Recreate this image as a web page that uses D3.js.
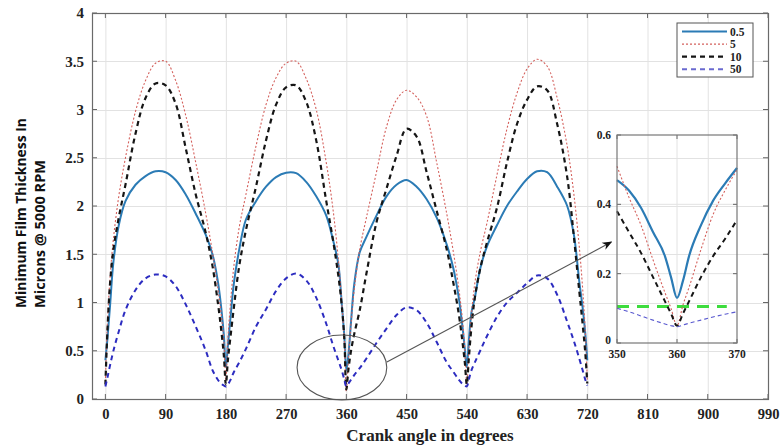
<!DOCTYPE html>
<html><head><meta charset="utf-8">
<script src="https://cdn.jsdelivr.net/npm/d3@7"></script>
<style>body{margin:0;background:#fff;} svg{display:block;}</style>
</head><body><svg id="c" width="781" height="445"></svg>
<script>
// ---------- data ----------
const angles = [0,3,7,12,20,30,45,60,75,90,105,120,135,150,160,168,173,177,
  180,183,187,192,200,210,225,240,255,270,285,300,315,330,340,348,353,357,
  360,363,367,372,380,390,405,420,435,450,465,480,495,510,520,528,533,537,
  540,543,547,552,560,570,585,600,615,630,645,660,675,690,700,708,713,717,
  720];
const film05 = [0.40,0.62,0.97,1.42,1.80,2.05,2.22,2.31,2.36,2.35,2.27,2.12,1.92,1.70,1.50,1.22,0.95,0.66,
  0.33,0.55,0.85,1.20,1.55,1.86,2.05,2.20,2.30,2.345,2.34,2.25,2.10,1.90,1.65,1.40,1.00,0.65,
  0.30,0.45,0.80,1.20,1.52,1.68,1.90,2.10,2.22,2.27,2.20,2.07,1.88,1.60,1.35,1.05,0.78,0.52,
  0.33,0.60,0.90,1.05,1.35,1.58,1.80,2.00,2.15,2.28,2.36,2.35,2.20,2.00,1.70,1.22,0.95,0.68,
  0.40];
const film5 = [0.18,0.78,1.26,1.66,2.10,2.50,2.98,3.30,3.48,3.50,3.30,2.94,2.45,1.92,1.52,1.15,0.88,0.60,
  0.20,0.62,1.00,1.38,1.78,2.12,2.62,3.05,3.33,3.48,3.50,3.32,3.00,2.45,1.97,1.45,1.02,0.60,
  0.08,0.40,0.78,1.15,1.55,1.88,2.35,2.82,3.10,3.20,3.13,2.93,2.45,1.92,1.52,1.15,0.85,0.50,
  0.15,0.50,0.88,1.20,1.52,1.82,2.32,2.80,3.17,3.42,3.52,3.45,3.12,2.62,2.12,1.58,1.15,0.70,
  0.20];
const film10 = [0.15,0.70,1.20,1.55,1.88,2.22,2.75,3.12,3.27,3.25,3.06,2.60,2.12,1.72,1.38,1.00,0.72,0.45,
  0.15,0.40,0.65,0.95,1.38,1.75,2.20,2.68,3.05,3.23,3.25,3.08,2.68,2.05,1.65,1.28,0.98,0.62,
  0.10,0.30,0.50,0.68,0.92,1.30,1.83,2.18,2.52,2.80,2.72,2.35,1.95,1.55,1.20,0.88,0.62,0.38,
  0.15,0.42,0.75,1.05,1.35,1.62,1.98,2.45,2.85,3.10,3.24,3.20,2.85,2.30,1.68,1.12,0.78,0.48,
  0.16];
const film50 = [0.13,0.22,0.35,0.50,0.70,0.92,1.13,1.25,1.29,1.27,1.17,0.98,0.75,0.50,0.30,0.20,0.16,0.14,
  0.13,0.15,0.20,0.28,0.38,0.52,0.75,0.93,1.12,1.25,1.30,1.23,1.05,0.78,0.56,0.40,0.30,0.20,
  0.13,0.16,0.20,0.25,0.32,0.42,0.58,0.73,0.87,0.95,0.92,0.79,0.59,0.38,0.28,0.20,0.16,0.14,
  0.13,0.20,0.30,0.38,0.50,0.65,0.85,1.00,1.10,1.20,1.28,1.25,1.08,0.80,0.60,0.42,0.30,0.20,
  0.14];
const seriesNames = ["0.5","5","10","50"];
const xTicks = [0,90,180,270,360,450,540,630,720,810,900,990];
const yTicks = [0,0.5,1,1.5,2,2.5,3,3.5,4];

const insetAngles = [350,352,354,356,358,359,360,361,362,364,366,368,370];
const inset05 = [0.47,0.44,0.39,0.32,0.25,0.19,0.13,0.18,0.25,0.34,0.41,0.46,0.505];
const inset5  = [0.51,0.42,0.34,0.24,0.145,0.10,0.05,0.11,0.16,0.27,0.37,0.44,0.50];
const inset10 = [0.38,0.32,0.26,0.19,0.12,0.085,0.05,0.085,0.12,0.19,0.25,0.30,0.355];
const inset50 = [0.10,0.09,0.078,0.066,0.055,0.05,0.047,0.052,0.057,0.066,0.075,0.083,0.09];
const limitAngles = [350,368.3];
const limitValues = [0.105,0.105];
const insetXTicks = [350,360,370];
const insetYTicks = [0,0.2,0.4,0.6];

// ---------- layout ----------
const svg = d3.select("#c");
const L = 92, R = 768, T = 13, B = 399;
const x = d3.scaleLinear().domain([-20,990]).range([L,R]);
const y = d3.scaleLinear().domain([0,4]).range([B,T]);
const serif = "'Liberation Serif','Times New Roman',serif";
const styles = [
  {stroke:"#2b7bb5", w:2, dash:null},
  {stroke:"#d4605c", w:1.1, dash:"2,2"},
  {stroke:"#151515", w:2.2, dash:"5,4"},
  {stroke:"#2c2cc0", w:2, dash:"5,4"}
];
const mainSeries = [film05, film5, film10, film50];

// grid
const grid = svg.append("g").attr("stroke","#e2e2e2").attr("stroke-width",1);
grid.selectAll(".gx").data(xTicks.filter(d=>d<990)).join("line")
  .attr("x1",d=>x(d)+0.5).attr("x2",d=>x(d)+0.5).attr("y1",T).attr("y2",B);
grid.selectAll(".gy").data(yTicks.filter(d=>d>0&&d<4)).join("line")
  .attr("y1",d=>Math.round(y(d))+0.5).attr("y2",d=>Math.round(y(d))+0.5).attr("x1",L).attr("x2",R);

// axes via d3 (labels), ticks inward drawn on all sides
const ax = svg.append("g").attr("transform",`translate(0,${B})`)
  .call(d3.axisBottom(x).tickValues(xTicks).tickSize(0).tickPadding(10).tickFormat(d3.format("d")));
ax.select(".domain").remove();
ax.selectAll("text").attr("font-family",serif).attr("font-weight","bold").attr("font-size",14.5).attr("fill","#222");
const ay = svg.append("g").attr("transform",`translate(${L},0)`)
  .call(d3.axisLeft(y).tickValues(yTicks).tickSize(0).tickPadding(8).tickFormat(d=>String(d)));
ay.select(".domain").remove();
ay.selectAll("text").attr("font-family",serif).attr("font-weight","bold").attr("font-size",15).attr("fill","#222");

const tk = svg.append("g").attr("stroke","#666").attr("stroke-width",1);
xTicks.forEach(d=>{
  tk.append("line").attr("x1",x(d)).attr("x2",x(d)).attr("y1",B).attr("y2",B-5);
  tk.append("line").attr("x1",x(d)).attr("x2",x(d)).attr("y1",T).attr("y2",T+5);
});
yTicks.forEach(d=>{
  tk.append("line").attr("x1",L).attr("x2",L+5).attr("y1",y(d)).attr("y2",y(d));
  tk.append("line").attr("x1",R).attr("x2",R-5).attr("y1",y(d)).attr("y2",y(d));
});
svg.append("rect").attr("x",L+0.5).attr("y",T+0.5).attr("width",R-L).attr("height",B-T)
  .attr("fill","none").attr("stroke","#6a6a6a").attr("stroke-width",1.2);

// main lines
const line = d3.line().x(d=>x(d[0])).y(d=>y(d[1])).curve(d3.curveCatmullRom.alpha(0.5));
mainSeries.forEach((vals,i)=>{
  svg.append("path").datum(angles.map((a,j)=>[a,vals[j]]))
    .attr("d",line).attr("fill","none")
    .attr("stroke",styles[i].stroke).attr("stroke-width",styles[i].w)
    .attr("stroke-dasharray",styles[i].dash);
});

// axis titles
svg.append("text").attr("x",(L+R)/2).attr("y",441).attr("text-anchor","middle")
  .attr("font-family",serif).attr("font-weight","bold").attr("font-size",17).attr("fill","#222")
  .text("Crank angle in degrees");
const yt = svg.append("g").attr("font-family","'Open Sans','Liberation Sans',sans-serif")
  .attr("font-weight","bold").attr("font-size",15).attr("fill","#111");
yt.append("text").attr("transform","translate(26,308) rotate(-90)").attr("textLength",190)
  .attr("lengthAdjust","spacingAndGlyphs").text("Minimum Film Thickness In");
yt.append("text").attr("transform","translate(45,308) rotate(-90)").attr("textLength",148)
  .attr("lengthAdjust","spacingAndGlyphs").text("Microns @ 5000 RPM");

// legend
const lg = svg.append("g");
lg.append("rect").attr("x",677).attr("y",23).attr("width",76).attr("height",54)
  .attr("fill","#fff").attr("stroke","#555").attr("stroke-width",1);
seriesNames.forEach((n,i)=>{
  const yy = 31.5 + i*12.6;
  lg.append("line").attr("x1",682).attr("x2",727).attr("y1",yy).attr("y2",yy)
    .attr("stroke", i===3 ? "#6a6ad0" : styles[i].stroke).attr("stroke-width",styles[i].w)
    .attr("stroke-dasharray",styles[i].dash);
  lg.append("text").attr("x",730).attr("y",yy+4).attr("font-family",serif)
    .attr("font-weight","bold").attr("font-size",11.5).attr("fill","#222").text(n);
});

// annotation ellipse and arrow (data units)
const ellipseC = [353.4, 0.326], ellipseR = [67, 0.337];
svg.append("ellipse").attr("cx",x(ellipseC[0])).attr("cy",y(ellipseC[1]))
  .attr("rx",x(ellipseR[0])-x(0)).attr("ry",y(0)-y(ellipseR[1]))
  .attr("fill","none").attr("stroke","#555").attr("stroke-width",1.1);
const defs = svg.append("defs");
defs.append("marker").attr("id","ah").attr("viewBox","0 0 10 10").attr("refX",9).attr("refY",5)
  .attr("markerWidth",9).attr("markerHeight",9).attr("orient","auto")
  .append("path").attr("d","M0,1 L10,5 L0,9 L3,5 Z").attr("fill","#111");
const arrowFrom = [420.6, 0.383], arrowTo = [756, 1.626];
svg.append("line").attr("x1",x(arrowFrom[0])).attr("y1",y(arrowFrom[1]))
  .attr("x2",x(arrowTo[0])).attr("y2",y(arrowTo[1]))
  .attr("stroke","#555").attr("stroke-width",1.1).attr("marker-end","url(#ah)");

// inset
const IL = 617, IR = 737, IT = 135, IB = 343;
const ix = d3.scaleLinear().domain([350,370]).range([IL,IR]);
const iy = d3.scaleLinear().domain([0,0.6]).range([IB,IT]);
const ig = svg.append("g");
ig.append("line").attr("x1",ix(360)).attr("x2",ix(360)).attr("y1",IT).attr("y2",IB).attr("stroke","#e2e2e2");
[0.2,0.4].forEach(v=>ig.append("line").attr("x1",IL).attr("x2",IR).attr("y1",iy(v)).attr("y2",iy(v)).attr("stroke","#e2e2e2"));
insetXTicks.forEach(d=>{
  ig.append("line").attr("x1",ix(d)).attr("x2",ix(d)).attr("y1",IB).attr("y2",IB-4).attr("stroke","#666");
  ig.append("line").attr("x1",ix(d)).attr("x2",ix(d)).attr("y1",IT).attr("y2",IT+4).attr("stroke","#666");
  ig.append("text").attr("x",ix(d)).attr("y",IB+15).attr("text-anchor","middle").attr("font-family",serif)
    .attr("font-weight","bold").attr("font-size",11.5).attr("fill","#222").text(d);
});
insetYTicks.forEach(d=>{
  ig.append("line").attr("x1",IL).attr("x2",IL+4).attr("y1",iy(d)).attr("y2",iy(d)).attr("stroke","#666");
  ig.append("line").attr("x1",IR).attr("x2",IR-4).attr("y1",iy(d)).attr("y2",iy(d)).attr("stroke","#666");
  ig.append("text").attr("x",IL-6).attr("y",iy(d)+(d===0?1:4)).attr("text-anchor","end").attr("font-family",serif)
    .attr("font-weight","bold").attr("font-size",11.5).attr("fill","#222").text(d===0?"0":String(d));
});
const iline = d3.line().x(d=>ix(d[0])).y(d=>iy(d[1])).curve(d3.curveMonotoneX);
const insetSeries = [inset05, inset5, inset10, inset50];
const insetStyles = [
  {stroke:"#2b7bb5", w:2.2, dash:null},
  {stroke:"#d4605c", w:1.1, dash:"2,2"},
  {stroke:"#151515", w:2, dash:"5,4"},
  {stroke:"#5a5ad0", w:1.1, dash:"4,3"}
];
ig.append("path").datum(limitAngles.map((a,j)=>[a,limitValues[j]])).attr("d",iline)
  .attr("fill","none").attr("stroke","#3ddc3d").attr("stroke-width",3).attr("stroke-dasharray","12,8");
insetSeries.forEach((vals,i)=>{
  ig.append("path").datum(insetAngles.map((a,j)=>[a,vals[j]])).attr("d",iline).attr("fill","none")
    .attr("stroke",insetStyles[i].stroke).attr("stroke-width",insetStyles[i].w)
    .attr("stroke-dasharray",insetStyles[i].dash);
});
ig.append("rect").attr("x",IL).attr("y",IT).attr("width",IR-IL).attr("height",IB-IT)
  .attr("fill","none").attr("stroke","#777").attr("stroke-width",1.2);
</script></body></html>
